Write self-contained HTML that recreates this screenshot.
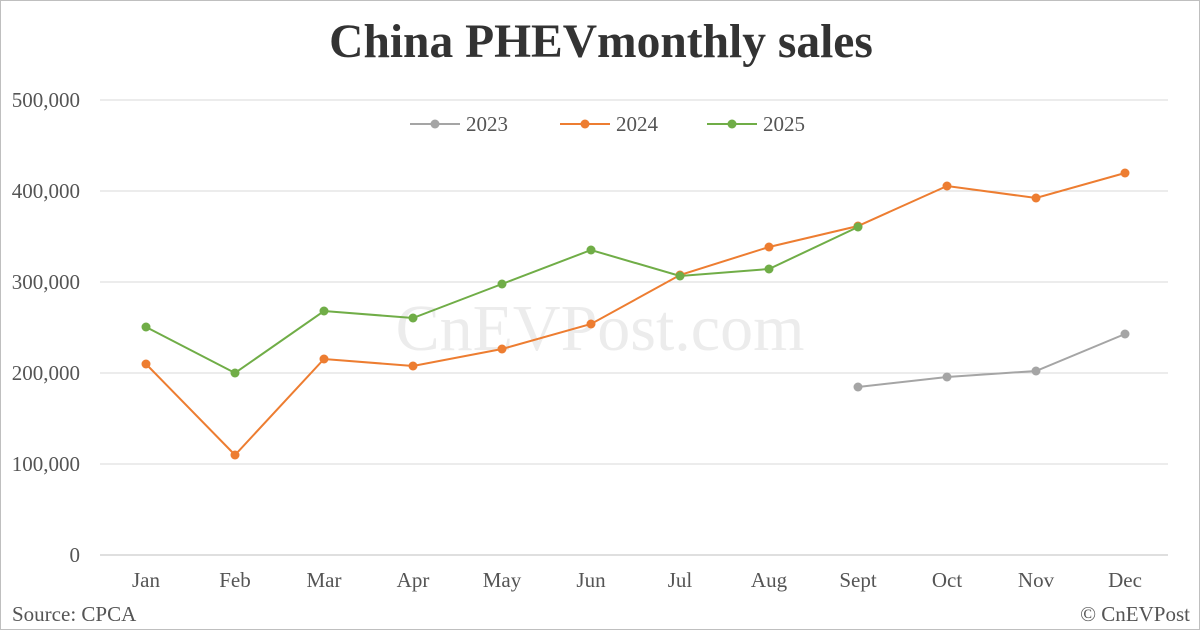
<!DOCTYPE html>
<html><head><style>
body{margin:0;background:#fff}
svg{display:block}
text{font-family:"Liberation Serif",serif}
</style></head><body>
<svg width="1200" height="630" viewBox="0 0 1200 630">
<rect x="0.5" y="0.5" width="1199" height="629" fill="#fff" stroke="#bfbfbf"/>
<text x="601" y="57" text-anchor="middle" font-size="47.5" font-weight="bold" fill="#333">China PHEVmonthly sales</text>
<g stroke="#d9d9d9" stroke-width="1">
<line x1="100" y1="100" x2="1168" y2="100"/><line x1="100" y1="191" x2="1168" y2="191"/>
<line x1="100" y1="282" x2="1168" y2="282"/><line x1="100" y1="373" x2="1168" y2="373"/>
<line x1="100" y1="464" x2="1168" y2="464"/></g>
<line x1="100" y1="555" x2="1168" y2="555" stroke="#bfbfbf"/>
<g font-size="21" fill="#555" text-anchor="end">
<text x="80" y="107">500,000</text><text x="80" y="198">400,000</text><text x="80" y="289">300,000</text>
<text x="80" y="380">200,000</text><text x="80" y="471">100,000</text><text x="80" y="562">0</text></g>
<g font-size="21" fill="#555" text-anchor="middle">
<text x="146" y="587">Jan</text><text x="235" y="587">Feb</text><text x="324" y="587">Mar</text><text x="413" y="587">Apr</text>
<text x="502" y="587">May</text><text x="591" y="587">Jun</text><text x="680" y="587">Jul</text><text x="769" y="587">Aug</text>
<text x="858" y="587">Sept</text><text x="947" y="587">Oct</text><text x="1036" y="587">Nov</text><text x="1125" y="587">Dec</text></g>
<text x="600" y="350" text-anchor="middle" font-size="66" fill="#ececec">CnEVPost.com</text>
<g stroke-width="2" fill="none">
<polyline stroke="#a5a5a5" points="858,387 947,377 1036,371 1125,334"/>
<polyline stroke="#ed7d31" points="146,364 235,455 324,359 413,366 502,349 591,324 680,275 769,247 858,226 947,186 1036,198 1125,173"/>
<polyline stroke="#70ad47" points="146,327 235,373 324,311 413,318 502,284 591,250 680,276 769,269 858,227"/>
</g>
<g fill="#a5a5a5"><circle cx="858" cy="387" r="4.5"/><circle cx="947" cy="377" r="4.5"/><circle cx="1036" cy="371" r="4.5"/><circle cx="1125" cy="334" r="4.5"/></g>
<g fill="#ed7d31"><circle cx="146" cy="364" r="4.5"/><circle cx="235" cy="455" r="4.5"/><circle cx="324" cy="359" r="4.5"/><circle cx="413" cy="366" r="4.5"/><circle cx="502" cy="349" r="4.5"/><circle cx="591" cy="324" r="4.5"/><circle cx="680" cy="275" r="4.5"/><circle cx="769" cy="247" r="4.5"/><circle cx="858" cy="226" r="4.5"/><circle cx="947" cy="186" r="4.5"/><circle cx="1036" cy="198" r="4.5"/><circle cx="1125" cy="173" r="4.5"/></g>
<g fill="#70ad47"><circle cx="146" cy="327" r="4.5"/><circle cx="235" cy="373" r="4.5"/><circle cx="324" cy="311" r="4.5"/><circle cx="413" cy="318" r="4.5"/><circle cx="502" cy="284" r="4.5"/><circle cx="591" cy="250" r="4.5"/><circle cx="680" cy="276" r="4.5"/><circle cx="769" cy="269" r="4.5"/><circle cx="858" cy="227" r="4.5"/></g>
<g stroke-width="2">
<line x1="410" y1="124" x2="460" y2="124" stroke="#a5a5a5"/><circle cx="435" cy="124" r="4.5" fill="#a5a5a5"/>
<line x1="560" y1="124" x2="610" y2="124" stroke="#ed7d31"/><circle cx="585" cy="124" r="4.5" fill="#ed7d31"/>
<line x1="707" y1="124" x2="757" y2="124" stroke="#70ad47"/><circle cx="732" cy="124" r="4.5" fill="#70ad47"/></g>
<g font-size="21" fill="#555"><text x="466" y="131">2023</text><text x="616" y="131">2024</text><text x="763" y="131">2025</text></g>
<text x="12" y="621" font-size="21" fill="#555">Source: CPCA</text>
<text x="1190" y="621" font-size="21" fill="#555" text-anchor="end">© CnEVPost</text>
</svg>
</body></html>
